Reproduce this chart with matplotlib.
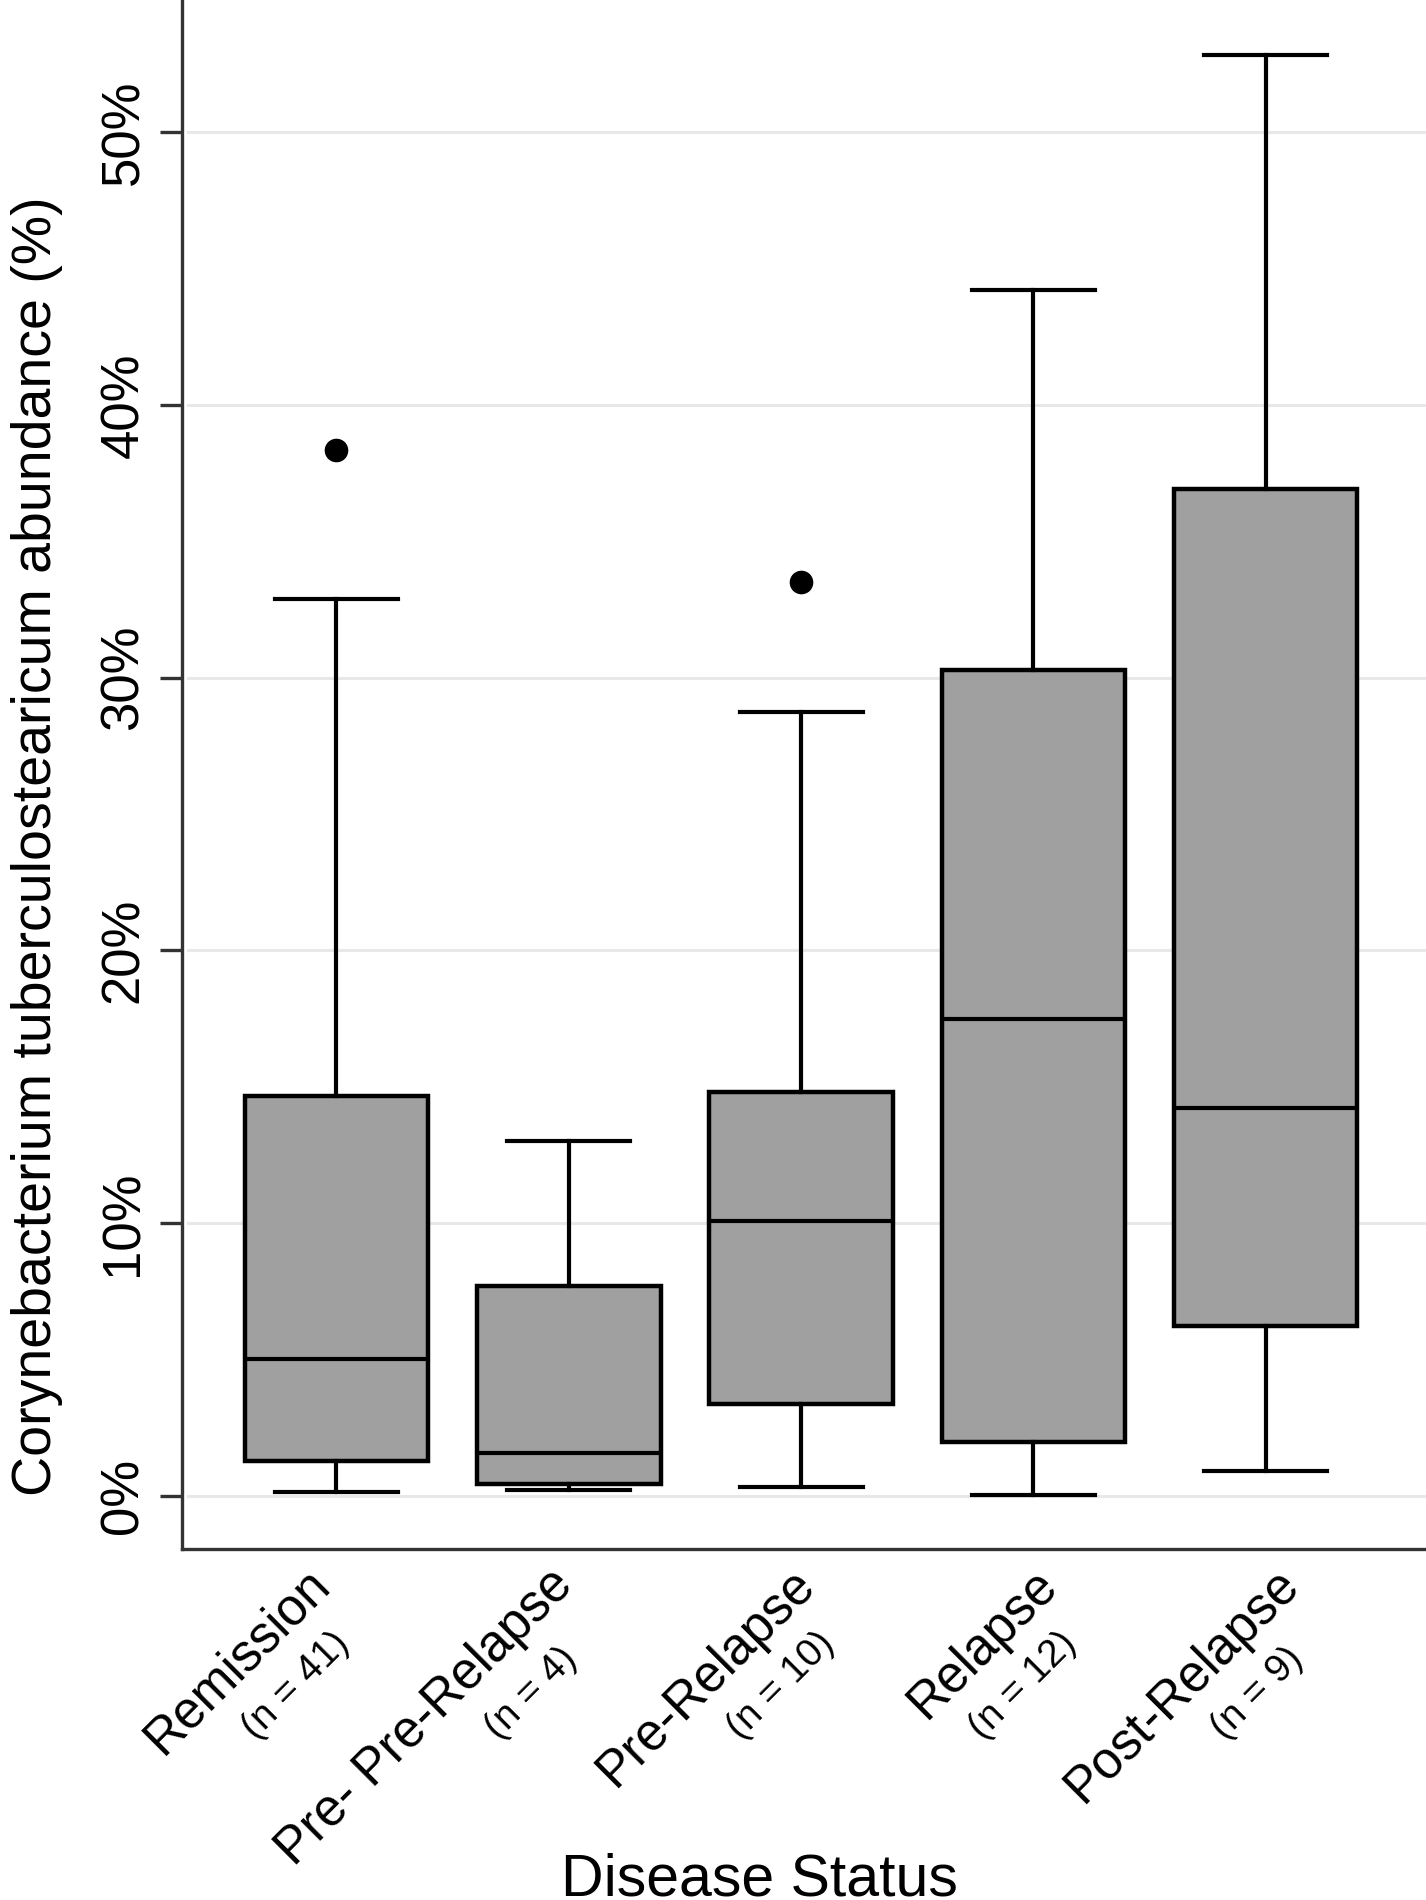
import matplotlib
matplotlib.use("Agg")
import matplotlib.pyplot as plt
import matplotlib.transforms as mtransforms
from matplotlib.ticker import FixedLocator, FuncFormatter

# ---------------------------------------------------------------------------
# Data (values in %)
# ---------------------------------------------------------------------------
groups = ["Remission", "Pre- Pre-Relapse", "Pre-Relapse", "Relapse", "Post-Relapse"]
n_labels = ["(n = 41)", "(n = 4)", "(n = 10)", "(n = 12)", "(n = 9)"]
whisker_low = [0.13, 0.22, 0.31, 0.04, 0.93]
q1 = [1.29, 0.44, 3.38, 1.96, 6.22]
median = [5.02, 1.56, 10.09, 17.47, 14.22]
q3 = [14.67, 7.69, 14.80, 30.30, 36.93]
whisker_high = [32.90, 13.02, 28.76, 44.20, 52.84]
outliers = [[38.36], [], [33.50], [], []]
yticks = [0, 10, 20, 30, 40, 50]

plt.rcParams["font.family"] = ["Liberation Sans", "DejaVu Sans"]

fig = plt.figure(figsize=(14.26, 19.0), dpi=100)
ax = fig.add_axes([0.1273, 0.1847, 0.8727, 0.8153])

stats = []
for i, name in enumerate(groups):
    stats.append(dict(label=name, med=median[i], q1=q1[i], q3=q3[i],
                      whislo=whisker_low[i], whishi=whisker_high[i],
                      fliers=outliers[i]))

positions = list(range(len(groups)))
ax.bxp(stats, positions=positions, widths=0.79, capwidths=0.53,
       patch_artist=True, showfliers=True,
       boxprops=dict(facecolor="#a0a0a0", edgecolor="black", linewidth=3.2),
       medianprops=dict(color="black", linewidth=3.0),
       whiskerprops=dict(color="black", linewidth=3.0),
       capprops=dict(color="black", linewidth=3.0),
       flierprops=dict(marker="o", markerfacecolor="black",
                       markeredgecolor="black", markersize=16))

ax.set_xlim(-0.667, 4.69)
ax.set_ylim(-1.95, 54.85)

# light horizontal grid, starting just right of the y axis
ax.yaxis.set_major_locator(FixedLocator(yticks))
ax.yaxis.set_major_formatter(FuncFormatter(lambda v, p: f"{int(v)}%"))
for y in yticks:
    ax.axhline(y, xmin=0.005, xmax=1, color="#e8e8e8", linewidth=2.2, zorder=0)

for side in ["top", "right"]:
    ax.spines[side].set_visible(False)
for side in ["left", "bottom"]:
    ax.spines[side].set_linewidth(2.4)
    ax.spines[side].set_color("#333333")

ax.tick_params(axis="y", labelsize=38, length=16, width=2.4, pad=7.5,
               labelrotation=90, color="#333333")
for lbl in ax.get_yticklabels():
    lbl.set_va("center")
ax.set_xticks(positions)
ax.set_xticklabels([""] * len(groups))
ax.tick_params(axis="x", length=0)

# rotated two-part category labels (the labels drift a little to the right
# relative to the boxes, as in the original figure)
base = ax.get_xaxis_transform()
for i, (name, nl) in enumerate(zip(groups, n_labels)):
    drift = 10 * i
    t1 = base + mtransforms.ScaledTranslation((-14 + drift) / 100, -28 / 100,
                                              fig.dpi_scale_trans)
    ax.text(i, 0, name, transform=t1, rotation=45, rotation_mode="anchor",
            ha="right", va="center", fontsize=37)
    t2 = base + mtransforms.ScaledTranslation((-88 + drift) / 100, -184 / 100,
                                              fig.dpi_scale_trans)
    ax.text(i, 0, nl, transform=t2, rotation=45, rotation_mode="anchor",
            ha="left", va="center", fontsize=28)

ax.set_ylabel("Corynebacterium tuberculostearicum abundance (%)", fontsize=40)
ax.yaxis.set_label_coords(-0.095, 0.454)
ax.set_xlabel("Disease Status", fontsize=42.5)
ax.xaxis.set_label_coords(0.464, -0.196)

fig.savefig("out.png", dpi=100)
